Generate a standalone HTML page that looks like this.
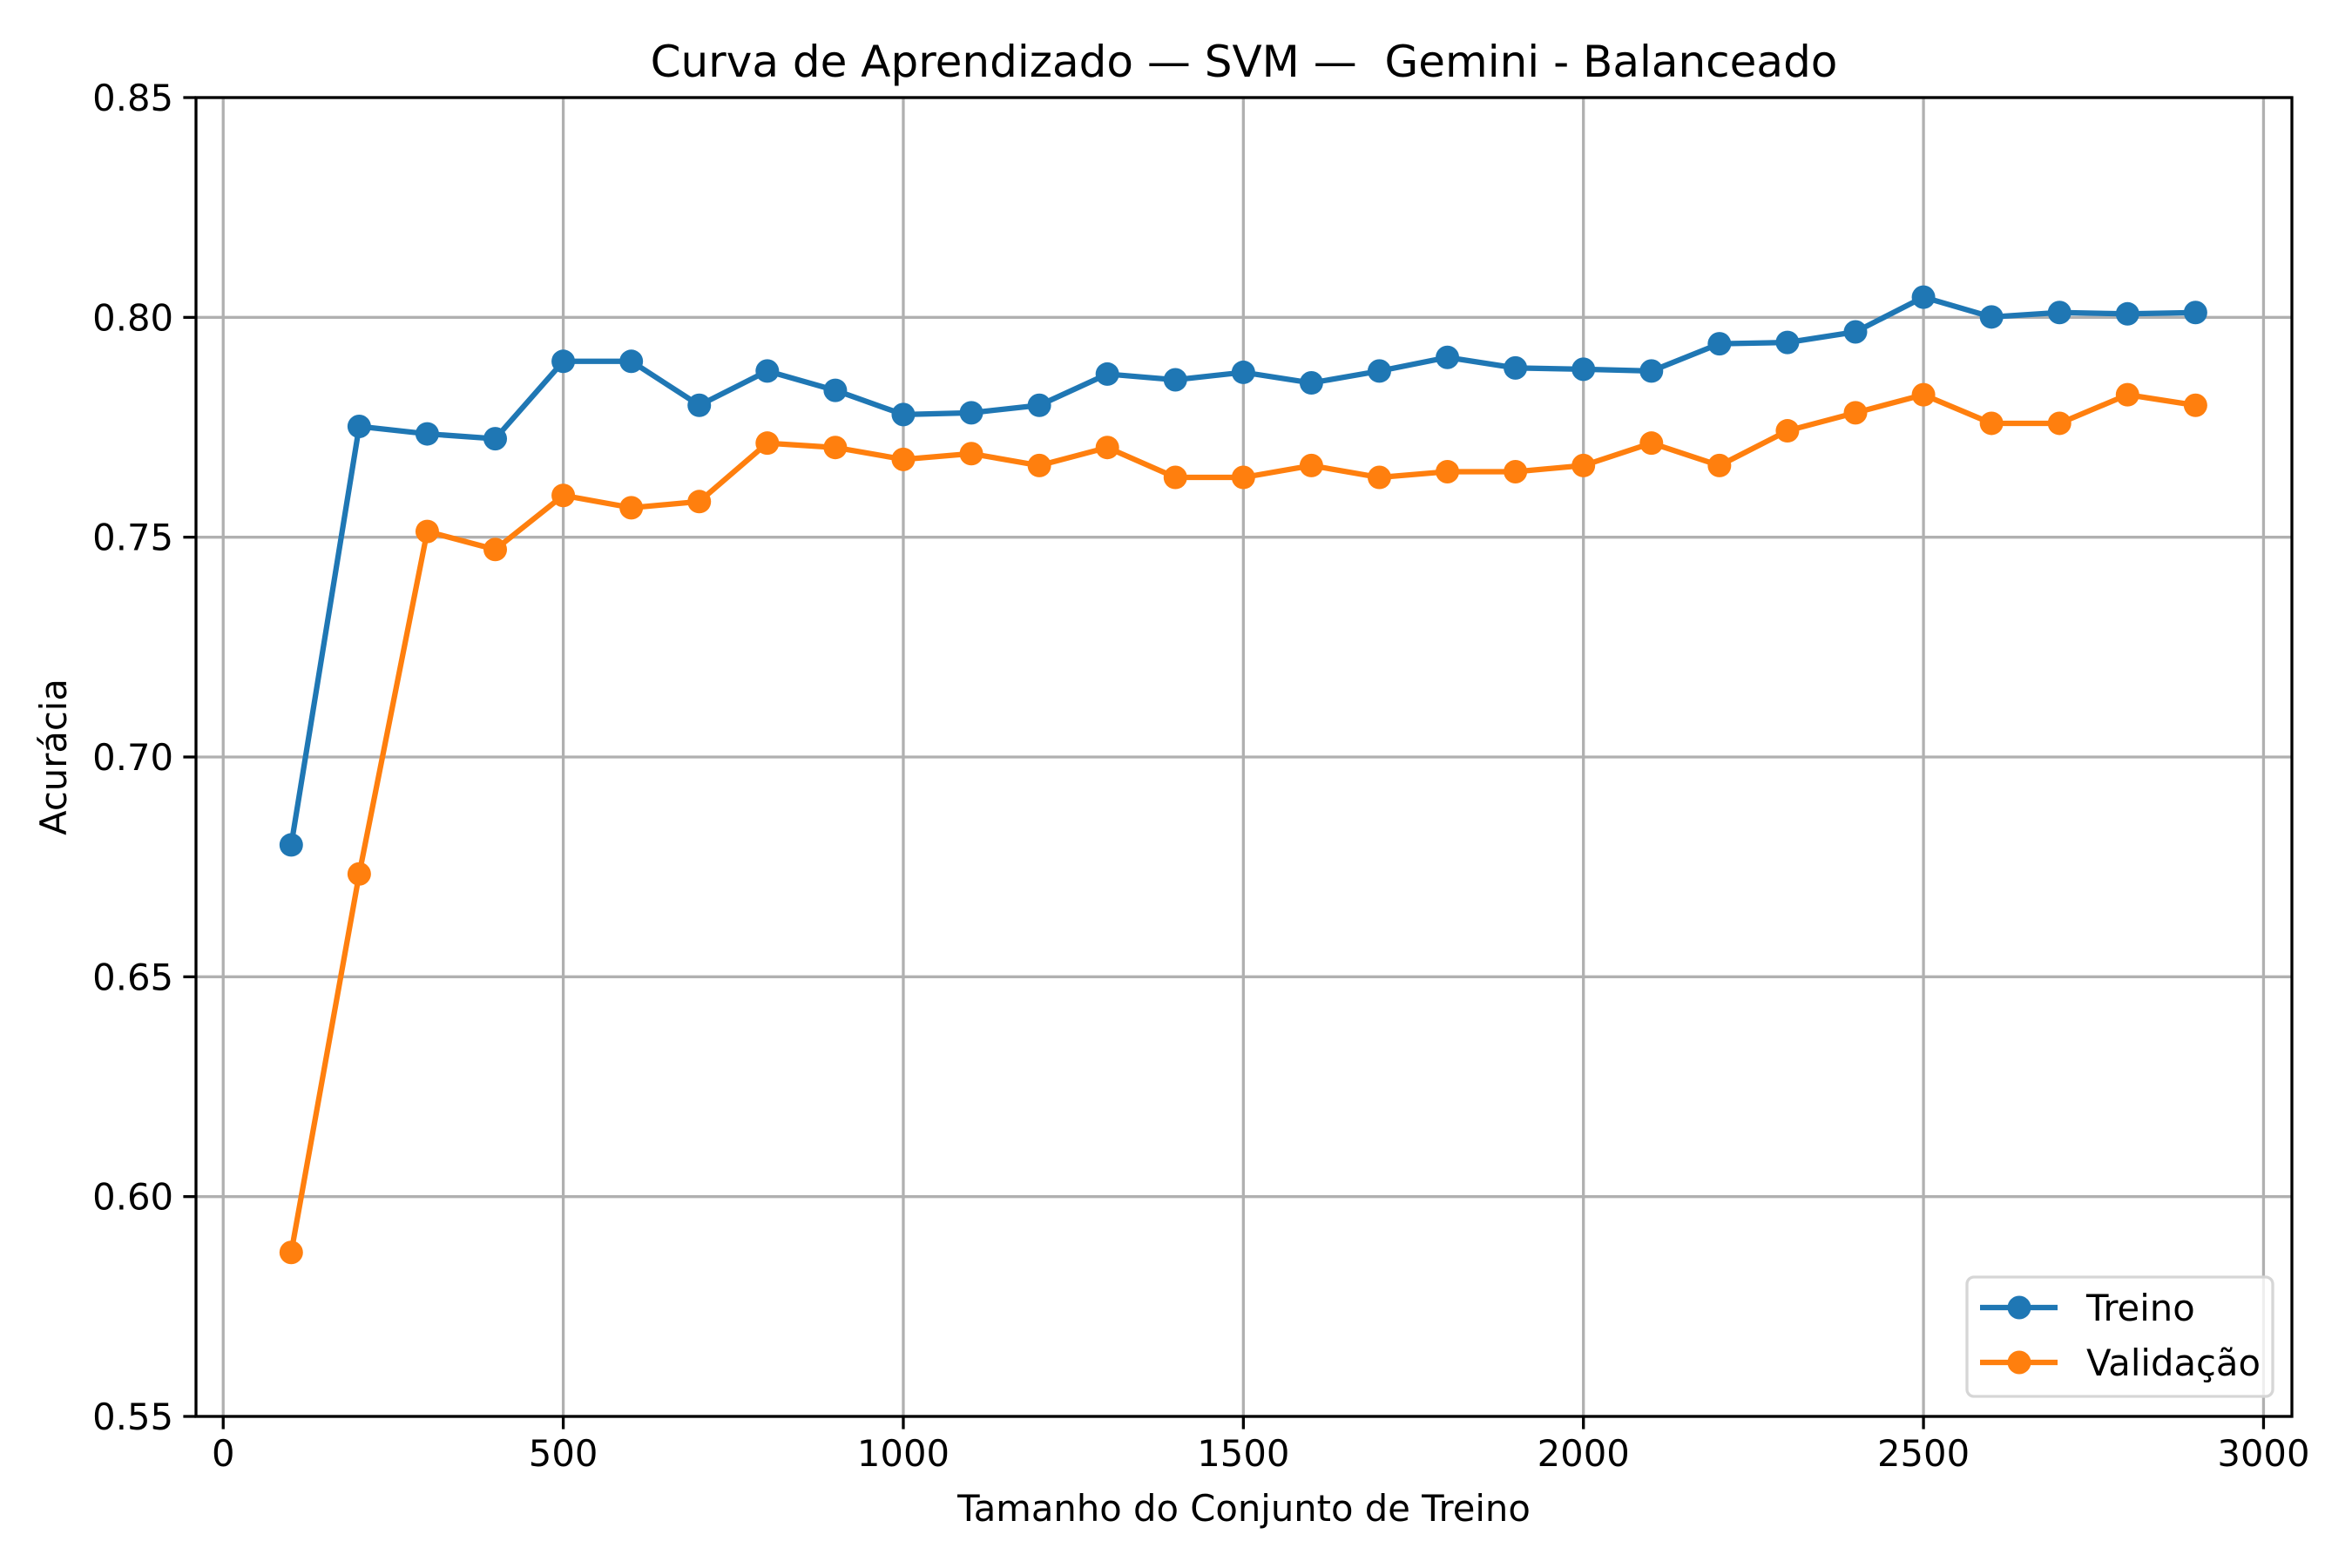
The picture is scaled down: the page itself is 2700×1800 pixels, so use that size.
<!DOCTYPE html>
<html><head><meta charset="utf-8"><style>
html,body{margin:0;padding:0;background:#fff;}
svg{display:block;font-family:"DejaVu Sans","Liberation Sans",sans-serif;}
</style></head><body>
<svg id="chart" width="2700" height="1800" viewBox="0 0 2700 1800" xmlns="http://www.w3.org/2000/svg">
<rect x="0" y="0" width="2700" height="1800" fill="#fff"/>
<g id="grid"></g>
<g id="series"></g>
<rect x="225" y="112" width="2406" height="1514" fill="none" stroke="#000" stroke-width="3.3"/>
<g id="ticks"></g>
<text x="1428" y="88" font-size="50" text-anchor="middle">Curva de Aprendizado — SVM — &#160;Gemini - Balanceado</text>
<text x="1428" y="1746" font-size="41.7" text-anchor="middle">Tamanho do Conjunto de Treino</text>
<text x="0" y="0" font-size="41.7" text-anchor="middle" transform="translate(76,869) rotate(-90)">Acurácia</text>
<g>
<rect x="2258" y="1466" width="351" height="137" rx="8" fill="#fff" fill-opacity="0.8" stroke="#d6d6d6" stroke-width="3.3"/>
<g>
<line x1="2273" y1="1501" x2="2362" y2="1501" stroke="#1f77b4" stroke-width="6.25"/>
<circle cx="2318" cy="1501" r="13.5" fill="#1f77b4"/>
<text x="2395" y="1516" font-size="41.7">Treino</text>
</g>
<g>
<line x1="2273" y1="1564" x2="2362" y2="1564" stroke="#ff7f0e" stroke-width="6.25"/>
<circle cx="2318" cy="1564" r="13.5" fill="#ff7f0e"/>
<text x="2395" y="1579" font-size="41.7">Validação</text>
</g>
</g>
</svg>
<script>
const trainSizes = [100,200,300,400,500,600,700,800,900,1000,1100,1200,1300,1400,1500,1600,1700,1800,1900,2000,2100,2200,2300,2400,2500,2600,2700,2800,2900];
const trainScores = [0.680,0.7752,0.7735,0.7724,0.790,0.790,0.780,0.7878,0.7834,0.7779,0.7783,0.780,0.7871,0.7858,0.7875,0.7851,0.7878,0.7909,0.7885,0.7882,0.7878,0.7940,0.7943,0.7967,0.8046,0.8001,0.8011,0.8008,0.8011];
const valScores = [0.5873,0.6734,0.7513,0.7472,0.7595,0.7567,0.7581,0.7714,0.7704,0.7677,0.7690,0.7663,0.7704,0.7636,0.7636,0.7663,0.7636,0.7649,0.7649,0.7663,0.7714,0.7663,0.7742,0.7783,0.7824,0.7759,0.7759,0.7824,0.780];
const xTicks = [0,500,1000,1500,2000,2500,3000];
const yTicks = [0.55,0.60,0.65,0.70,0.75,0.80,0.85];
const yTickLabels = ["0.55","0.60","0.65","0.70","0.75","0.80","0.85"];

const L=225,R=2631,T=112,B=1626;
const X0=-40,X1=3041.7,Y0=0.55,Y1=0.85;
function sx(v){return L+(v-X0)/(X1-X0)*(R-L);}
function sy(v){return B-(v-Y0)/(Y1-Y0)*(B-T);}
const NS="http://www.w3.org/2000/svg";
function mk(tag,attrs,parent){const e=document.createElementNS(NS,tag);for(const k in attrs)e.setAttribute(k,attrs[k]);parent.appendChild(e);return e;}
const grid=document.getElementById('grid'),ticks=document.getElementById('ticks'),series=document.getElementById('series');

xTicks.forEach(t=>{
  const x=sx(t);
  const g=mk('line',{x1:x,y1:T,x2:x,y2:B,stroke:'#b0b0b0','stroke-width':3.3},grid);
  
  
  const tk=mk('line',{x1:x,y1:B,x2:x,y2:B+14.6,stroke:'#000','stroke-width':3.3},ticks);
  
  
  const tx=mk('text',{x:x,y:B+57,'font-size':41.7,'text-anchor':'middle'},ticks);
  tx.textContent=String(t);
  
  
});
yTicks.forEach((t,i)=>{
  const y=sy(t);
  const g=mk('line',{x1:L,y1:y,x2:R,y2:y,stroke:'#b0b0b0','stroke-width':3.3},grid);
  
  
  const tk=mk('line',{x1:L-14.6,y1:y,x2:L,y2:y,stroke:'#000','stroke-width':3.3},ticks);
  
  
  const tx=mk('text',{x:L-26,y:y+15,'font-size':41.7,'text-anchor':'end'},ticks);
  tx.textContent=yTickLabels[i];
  
  
});
function drawSeries(vals,color,name){
  const pts=trainSizes.map((s,i)=>sx(s).toFixed(2)+','+sy(vals[i]).toFixed(2)).join(' ');
  const pl=mk('polyline',{points:pts,fill:'none',stroke:color,'stroke-width':6.25,'stroke-linejoin':'round','stroke-linecap':'square'},series);
  
  
  trainSizes.forEach((s,i)=>{
    const c=mk('circle',{cx:sx(s),cy:sy(vals[i]),r:13.5,fill:color},series);
    
    
  });
}
drawSeries(trainScores,'#1f77b4','treino');
drawSeries(valScores,'#ff7f0e','validacao');
</script>
</body></html>
